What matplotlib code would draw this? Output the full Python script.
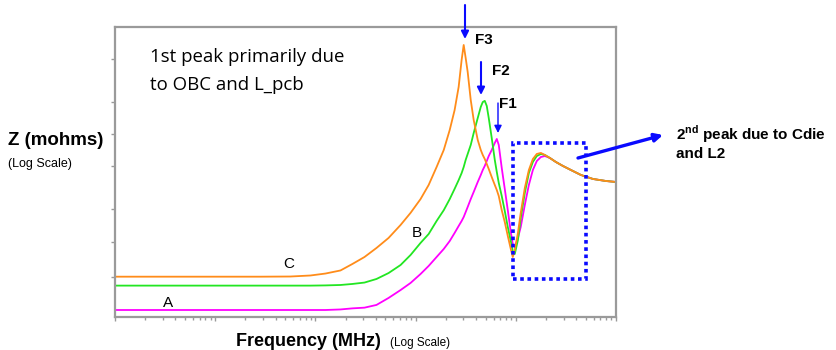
import matplotlib
matplotlib.use('Agg')
import matplotlib.pyplot as plt
from matplotlib.patches import Rectangle

# frequency grid (MHz) and impedance (mohm)
freq_mhz = [0.01, 0.0708, 0.282, 0.562, 0.891, 1.26, 1.78, 2.34, 3.09, 4.07,
            5.37, 7.08, 8.91, 11.2, 13.5, 16.2, 19.1, 21.9, 24.5, 26.9,
            28.8, 30.2, 31.6, 33.1, 35.5, 38.0, 41.7, 44.7, 46.8, 49.0,
            51.3, 53.7, 57.5, 61.7, 64.6, 67.6, 72.4, 77.6, 83.2, 89.1,
            93.3, 97.7, 105, 112, 123, 135, 148, 162, 178, 195,
            219, 251, 295, 355, 447, 589, 794, 1000]

# curve A (magenta)
z_a = [1.175, 1.175, 1.175, 1.175, 1.175, 1.175, 1.19, 1.22, 1.24, 1.32,
       1.55, 1.86, 2.19, 2.69, 3.24, 3.98, 4.79, 5.75, 6.92, 8.13,
       9.12, 10.0, 11.2, 12.6, 15.1, 17.8, 22.4, 26.3, 29.5, 32.4,
       36.3, 40.7, 46.8, 55.0, 60.3, 52.5, 30.9, 19.1, 11.7, 7.08,
       5.37, 5.01, 6.17, 7.94, 13.2, 20.9, 29.5, 36.3, 39.8, 40.7,
       38.9, 35.5, 32.4, 29.5, 26.3, 24.0, 22.9, 22.4]

# curve B (green)
z_b = [2.06, 2.06, 2.06, 2.06, 2.06, 2.07, 2.09, 2.14, 2.21, 2.40,
       2.75, 3.31, 4.17, 5.50, 6.76, 9.12, 11.7, 15.1, 19.1, 23.4,
       27.5, 31.6, 37.2, 42.7, 52.5, 69.2, 97.7, 126, 141, 145,
       129, 97.7, 61.7, 37.2, 28.2, 21.9, 16.2, 11.5, 7.94, 5.75,
       4.57, 4.27, 5.89, 9.77, 17.4, 27.5, 35.5, 40.7, 42.7, 41.7,
       38.9, 35.5, 32.4, 29.5, 26.3, 24.0, 22.9, 22.4]

# curve C (orange)
z_c = [2.53, 2.53, 2.53, 2.54, 2.60, 2.72, 2.92, 3.39, 3.98, 4.90,
       6.17, 8.32, 11.0, 15.1, 20.9, 31.6, 46.8, 74.1, 117, 200,
       372, 525, 389, 282, 148, 93.3, 58.9, 46.8, 41.7, 38.0,
       33.9, 30.2, 25.1, 20.9, 18.6, 16.2, 11.7, 8.91, 6.46, 4.79,
       3.98, 4.68, 6.92, 11.0, 19.5, 29.5, 38.0, 42.7, 43.7, 41.7,
       38.9, 35.5, 32.4, 29.5, 26.3, 24.0, 22.9, 22.4]

W, H = 836, 350
plt.rcParams['mathtext.fontset'] = 'custom'
plt.rcParams['mathtext.bf'] = 'Liberation Sans:bold'
plt.rcParams['mathtext.rm'] = 'Liberation Sans'

fig = plt.figure(figsize=(W / 100, H / 100), dpi=100)
ax = fig.add_axes([115 / W, 1 - 317 / H, 501 / W, 290 / H])

ax.plot(freq_mhz, z_a, color='#ff00ff', lw=1.3)
ax.plot(freq_mhz, z_b, color='#22e622', lw=1.3)
ax.plot(freq_mhz, z_c, color='#ff8c1a', lw=1.3)

ax.set_xscale('log')
ax.set_yscale('log')
ax.set_xlim(0.01, 1000)
ax.set_ylim(1, 794)
ax.set_yticks([2.5, 5.6, 12, 32, 68, 141, 380])
ax.yaxis.set_minor_locator(matplotlib.ticker.NullLocator())
ax.tick_params(which='both', direction='out', color='#999999', width=1,
               labelleft=False, labelbottom=False)
ax.tick_params(which='major', length=3)
ax.tick_params(which='minor', length=2)
for s in ax.spines.values():
    s.set_color('#9a9a9a')
    s.set_linewidth(1.6)

def fx(px):
    return px / W

def fy(py):
    return 1 - py / H

blue = '#0a0aff'

# peak markers
def down_arrow(x, y0, y1, lw):
    ax.annotate('', xy=(x, H - y1), xytext=(x, H - y0), xycoords='figure pixels',
                arrowprops=dict(arrowstyle='-|>', color=blue, lw=lw,
                                mutation_scale=11, shrinkA=0, shrinkB=0))

down_arrow(465, 5, 39, 1.5)
down_arrow(481, 62, 95, 1.5)
down_arrow(498, 103, 133, 1.0)

bold = dict(family='Liberation Sans', fontweight='bold')
fig.text(fx(475), fy(44), 'F3', fontsize=11, va='baseline', **bold)
fig.text(fx(492), fy(75), 'F2', fontsize=11, va='baseline', **bold)
fig.text(fx(499), fy(108), 'F1', fontsize=11, va='baseline', **bold)

fig.text(fx(150), fy(62), '1st peak primarily due', fontsize=13.4,
         family='Open Sans', va='baseline')
fig.text(fx(150), fy(90), 'to OBC and L_pcb', fontsize=13.4,
         family='Open Sans', va='baseline')

fig.text(fx(283), fy(268), 'C', fontsize=11, family='Liberation Sans', va='baseline')
fig.text(fx(412), fy(237), 'B', fontsize=11, family='Liberation Sans', va='baseline')
fig.text(fx(163), fy(307), 'A', fontsize=11, family='Liberation Sans', va='baseline')

# second peak box and pointer
box = Rectangle((fx(513), fy(279)), (586 - 513) / W, (279 - 143) / H,
                transform=fig.transFigure, fill=False, ec=blue, lw=2.6,
                ls=(0, (1, 1)))
fig.add_artist(box)
ax.annotate('', xy=(663, H - 135), xytext=(578, H - 158), xycoords='figure pixels',
            arrowprops=dict(arrowstyle='-|>', color=blue, lw=2.4,
                            mutation_scale=12, shrinkA=0, shrinkB=0))

fig.text(fx(676), fy(140), r'2$^{\mathbf{nd}}$ peak due to Cdie', fontsize=11,
         va='baseline', **bold)
fig.text(fx(676), fy(158), 'and L2', fontsize=11, va='baseline', **bold)

# axis titles
fig.text(fx(8), fy(145), 'Z (mohms)', fontsize=13.5, va='baseline', **bold)
fig.text(fx(8), fy(167), '(Log Scale)', fontsize=9, va='baseline',
         family='Liberation Sans')
fig.text(fx(236), fy(346), 'Frequency (MHz)', fontsize=13, va='baseline', **bold)
fig.text(fx(390), fy(346), '(Log Scale)', fontsize=8.5, va='baseline',
         family='Liberation Sans')

fig.savefig('out.png', dpi=100)
